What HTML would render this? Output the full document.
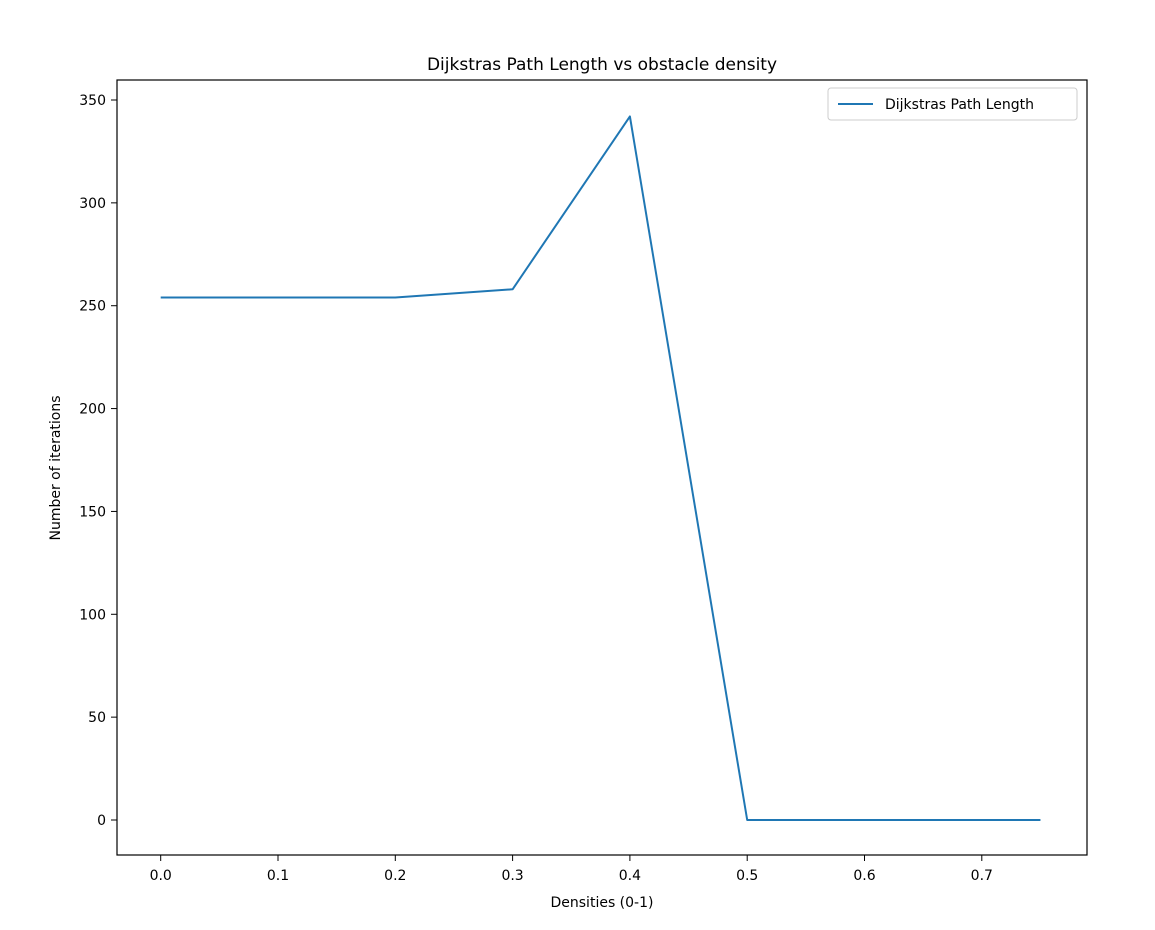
<!DOCTYPE html>
<html><head><meta charset="utf-8"><style>
html,body{margin:0;padding:0;background:#fff;}
svg{display:block;font-family:"DejaVu Sans","Liberation Sans",sans-serif;}
</style></head><body>
<svg id="chart" width="1155" height="930" viewBox="0 0 1155 930">
<rect width="1155" height="930" fill="#fff"/>
<text x="602" y="70" text-anchor="middle" font-size="17">Dijkstras Path Length vs obstacle density</text>
<g id="xticks"></g>
<g id="yticks"></g>
<text x="602" y="907" text-anchor="middle" font-size="14">Densities (0-1)</text>
<text transform="translate(60,468) rotate(-90)" text-anchor="middle" font-size="14">Number of iterations</text>
<polyline id="series" fill="none" stroke="#1f77b4" stroke-width="2" stroke-linejoin="round"/>
<rect x="117" y="80" width="970" height="775" fill="none" stroke="#000" stroke-width="1.2"/>
<g>
<rect x="828" y="88" width="249" height="32" rx="3" fill="#fff" stroke="#ccc"/>
<line x1="838" y1="104" x2="873" y2="104" stroke="#1f77b4" stroke-width="2"/>
<text x="885" y="109" font-size="14">Dijkstras Path Length</text>
</g>
</svg>
<script>
const densities=[0,0.1,0.2,0.3,0.4,0.5,0.6,0.75];
const pathLengths=[254,254,254,258,342,0,0,0];
const xTickValues=[0,0.1,0.2,0.3,0.4,0.5,0.6,0.7];
const yTickValues=[0,50,100,150,200,250,300,350];
const NS="http://www.w3.org/2000/svg";
function xs(v){return 160.7+v*1173;}
function ys(v){return 820-v*(720/350);}
const xg=document.getElementById('xticks');
xTickValues.forEach(v=>{
 const l=document.createElementNS(NS,'line');
 l.setAttribute('x1',xs(v));l.setAttribute('x2',xs(v));l.setAttribute('y1',855);l.setAttribute('y2',861);l.setAttribute('stroke','#000');
 
 
 xg.appendChild(l);
 const t=document.createElementNS(NS,'text');
 t.setAttribute('x',xs(v));t.setAttribute('y',880);t.setAttribute('text-anchor','middle');t.setAttribute('font-size','14');
 t.textContent=v.toFixed(1);
 
 
 xg.appendChild(t);
});
const yg=document.getElementById('yticks');
yTickValues.forEach(v=>{
 const l=document.createElementNS(NS,'line');
 l.setAttribute('x1',111);l.setAttribute('x2',117);l.setAttribute('y1',ys(v));l.setAttribute('y2',ys(v));l.setAttribute('stroke','#000');
 
 
 yg.appendChild(l);
 const t=document.createElementNS(NS,'text');
 t.setAttribute('x',106);t.setAttribute('y',ys(v)+5);t.setAttribute('text-anchor','end');t.setAttribute('font-size','14');
 t.textContent=v;
 
 
 yg.appendChild(t);
});
document.getElementById('series').setAttribute('points',densities.map((d,i)=>xs(d)+','+ys(pathLengths[i])).join(' '));
</script>
</body></html>
